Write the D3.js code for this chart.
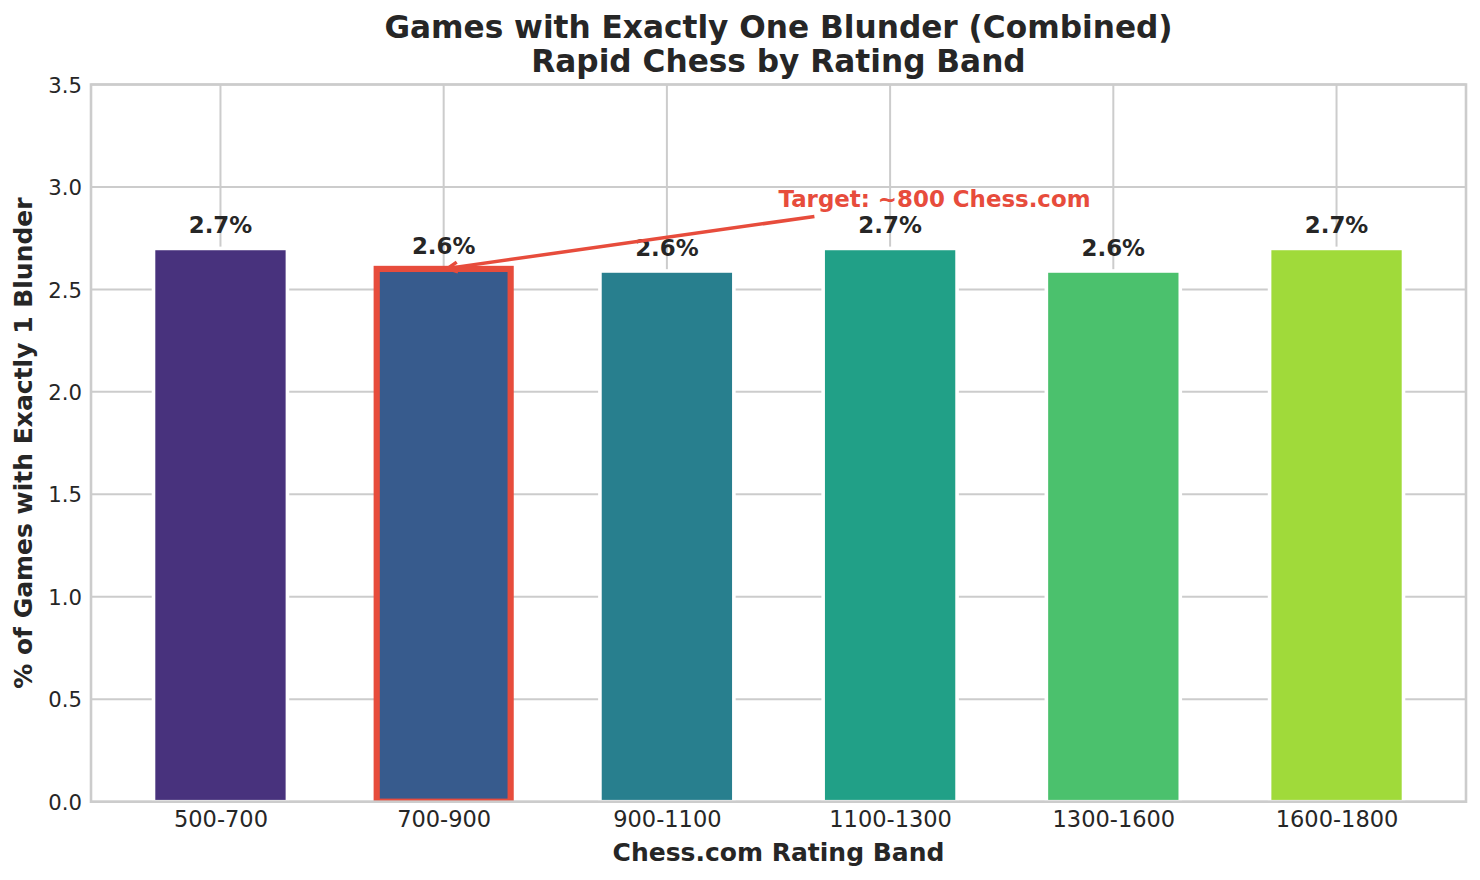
<!DOCTYPE html>
<html>
<head>
<meta charset="utf-8">
<script src="https://cdn.jsdelivr.net/npm/d3@7"></script>
<style>
  html, body { margin: 0; padding: 0; background: #fff; }
  svg { display: block; font-family: 'DejaVu Sans', sans-serif; }
</style>
</head>
<body>
<div id="chart"></div>
<script>
// data
var BANDS = ['500-700', '700-900', '900-1100', '1100-1300', '1300-1600', '1600-1800']
var PCT = [2.70, 2.60, 2.59, 2.70, 2.59, 2.70]
var Y_TICKS = [0, 0.5, 1.0, 1.5, 2.0, 2.5, 3.0, 3.5]
var TARGET_INDEX = 1
var TARGET_LABEL = 'Target: ~800 Chess.com'
var TITLE = ['Games with Exactly One Blunder (Combined)', 'Rapid Chess by Rating Band']
var X_LABEL = 'Chess.com Rating Band'
var Y_LABEL = '% of Games with Exactly 1 Blunder'

;(function () {
  var WIDTH = 1480
  var HEIGHT = 880
  var LEFT = 91
  var RIGHT = 1466
  var TOP = 84.5
  var BOTTOM = 801.7
  var BAR_W = 0.6
  var TEXT = '#262626'
  var GRID = '#cccccc'
  var RED = '#e74c3c'
  var COLORS = ['#48327d', '#375b8d', '#287f8e', '#21a087', '#4bc16d', '#a0da3a']

  var svg = d3.select('#chart').append('svg')
    .attr('width', WIDTH)
    .attr('height', HEIGHT)

  svg.append('clipPath').attr('id', 'plot-clip')
    .append('rect')
    .attr('x', LEFT).attr('y', TOP)
    .attr('width', RIGHT - LEFT).attr('height', BOTTOM - TOP)

  var x = d3.scaleLinear().domain([-0.58, BANDS.length - 1 + 0.58]).range([LEFT, RIGHT])
  var y = d3.scaleLinear().domain([0, 3.5]).range([BOTTOM, TOP])

  // grid, behind everything
  var grid = svg.append('g')
  grid.selectAll('line.h').data(Y_TICKS).enter().append('line')
    .attr('x1', LEFT).attr('x2', RIGHT)
    .attr('y1', function (d) { return y(d) }).attr('y2', function (d) { return y(d) })
    .attr('stroke', GRID).attr('stroke-width', 2)
  grid.selectAll('line.v').data(BANDS).enter().append('line')
    .attr('x1', function (d, i) { return x(i) }).attr('x2', function (d, i) { return x(i) })
    .attr('y1', TOP).attr('y2', BOTTOM)
    .attr('stroke', GRID).attr('stroke-width', 2)

  // bars
  svg.append('g').attr('clip-path', 'url(#plot-clip)')
    .selectAll('rect').data(PCT).enter().append('rect')
    .attr('x', function (d, i) { return x(i - BAR_W / 2) })
    .attr('width', x(BAR_W) - x(0))
    .attr('y', function (d) { return y(d) })
    .attr('height', function (d) { return y(0) - y(d) })
    .attr('fill', function (d, i) { return COLORS[i] })
    .attr('stroke', function (d, i) { return i === TARGET_INDEX ? RED : '#fff' })
    .attr('stroke-width', function (d, i) { return i === TARGET_INDEX ? 6.2 : 3.6 })

  // value labels
  svg.append('g').selectAll('text').data(PCT).enter().append('text')
    .attr('x', function (d, i) { return x(i) })
    .attr('y', function (d) { return y(d + 0.05) - 5 })
    .attr('text-anchor', 'middle')
    .attr('font-size', 22.9).attr('font-weight', 'bold').attr('fill', TEXT)
    .text(function (d) { return d.toFixed(1) + '%' })

  // spines
  svg.append('rect')
    .attr('x', LEFT).attr('y', TOP)
    .attr('width', RIGHT - LEFT).attr('height', BOTTOM - TOP)
    .attr('fill', 'none').attr('stroke', GRID).attr('stroke-width', 2.6)

  // tick labels
  var yAxis = svg.append('g')
    .attr('transform', 'translate(' + LEFT + ',0)')
    .call(d3.axisLeft(y).tickValues(Y_TICKS).tickFormat(d3.format('.1f')).tickSize(0).tickPadding(9))
  var xAxis = svg.append('g')
    .attr('transform', 'translate(0,' + BOTTOM + ')')
    .call(d3.axisBottom(x).tickValues(d3.range(BANDS.length)).tickFormat(function (i) { return BANDS[i] }).tickSize(0).tickPadding(10))
  ;[xAxis, yAxis].forEach(function (a) {
    a.select('.domain').remove()
    a.selectAll('text').attr('font-family', 'DejaVu Sans').attr('fill', TEXT)
  })
  xAxis.selectAll('text').attr('font-size', 22.5).attr('dy', null).attr('y', 25.5)
  yAxis.selectAll('text').attr('font-size', 21.2).attr('dy', '0.36em')

  // axis titles
  svg.append('text')
    .attr('x', (LEFT + RIGHT) / 2).attr('y', 861)
    .attr('text-anchor', 'middle')
    .attr('font-size', 25).attr('font-weight', 'bold').attr('fill', TEXT)
    .text(X_LABEL)
  svg.append('text')
    .attr('transform', 'translate(32,' + (TOP + BOTTOM) / 2 + ') rotate(-90)')
    .attr('text-anchor', 'middle')
    .attr('font-size', 25).attr('font-weight', 'bold').attr('fill', TEXT)
    .text(Y_LABEL)

  // title
  svg.append('g').selectAll('text').data(TITLE).enter().append('text')
    .attr('x', (LEFT + RIGHT) / 2)
    .attr('y', function (d, i) { return 38 + i * 34 })
    .attr('text-anchor', 'middle')
    .attr('font-size', 31.2).attr('font-weight', 'bold').attr('fill', TEXT)
    .text(function (d) { return d })

  // annotation: text and arrow pointing at the target band
  var note = svg.append('text')
    .attr('x', x(2.5)).attr('y', y(2.9))
    .attr('font-size', 22.9).attr('font-weight', 'bold').attr('fill', RED)
    .text(TARGET_LABEL)
  var box = note.node().getBBox()
  var cx = box.x + box.width / 2
  var cy = box.y + box.height / 2
  var tx = x(TARGET_INDEX)
  var ty = y(PCT[TARGET_INDEX])
  // start where the line leaves the text box (plus a small gap)
  var t0 = (box.y + box.height + 4 - cy) / (ty - cy)
  var sx = cx + t0 * (tx - cx)
  var sy = cy + t0 * (ty - cy)
  var len = Math.hypot(tx - sx, ty - sy)
  var ux = (tx - sx) / len
  var uy = (ty - sy) / len
  var ex = tx - ux * 4
  var ey = ty - uy * 4
  var HEAD = 11
  var ang = Math.atan2(uy, ux)
  function arm (sign) {
    var a = ang + Math.PI + sign * 0.46
    return [ex + HEAD * Math.cos(a), ey + HEAD * Math.sin(a)]
  }
  var arrow = svg.append('g')
    .attr('fill', 'none').attr('stroke', RED).attr('stroke-width', 3.5)
  arrow.append('line')
    .attr('x1', sx).attr('y1', sy).attr('x2', ex).attr('y2', ey)
  arrow.append('path')
    .attr('d', d3.line()([arm(1), [ex, ey], arm(-1)]))
})()
</script>
</body>
</html>
